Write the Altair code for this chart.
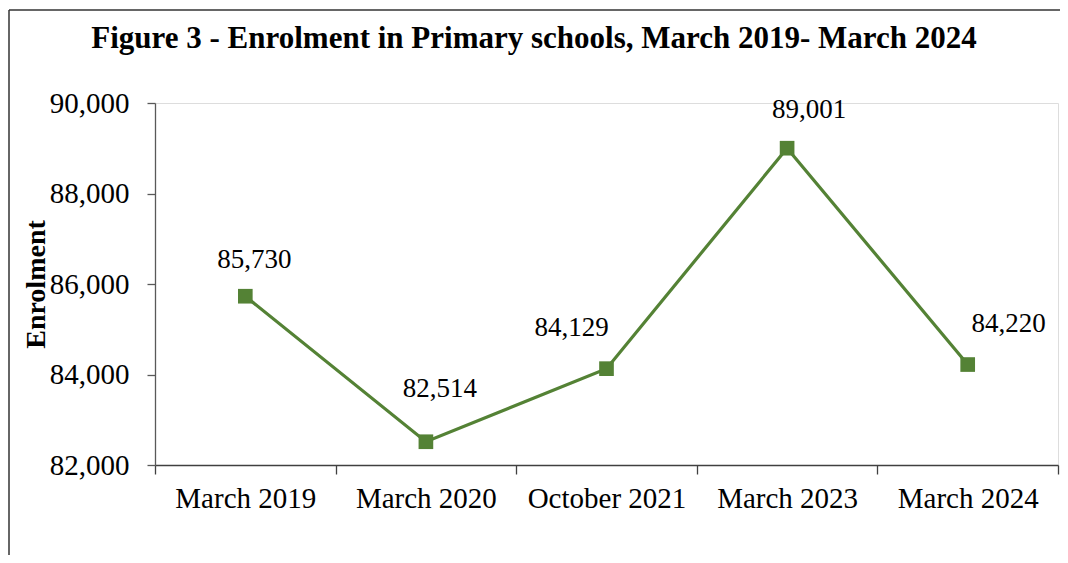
import altair as alt
import pandas as pd

# ---- data ----
periods = ["March 2019", "March 2020", "October 2021", "March 2023", "March 2024"]
enrolment = [85730, 82514, 84129, 89001, 84220]
value_labels = ["85,730", "82,514", "84,129", "89,001", "84,220"]
y_ticks = [82000, 84000, 86000, 88000, 90000]
title_text = "Figure 3 - Enrolment in Primary schools, March 2019- March 2024"

df = pd.DataFrame({"period": periods, "enrolment": enrolment, "label": value_labels})

GREEN = "#548235"
SERIF = "Liberation Serif"
W, H = 903, 362

# label nudges (styling, px)
label_nudges = {
    "March 2019": (9, -36),
    "March 2020": (14, -53),
    "October 2021": (-35, -41),
    "March 2023": (22, -38),
    "March 2024": (41, -41),
}

x_enc = alt.X(
    "period:N",
    sort=periods,
    bandPosition=0.5,
    scale=alt.Scale(type="band", paddingInner=0, paddingOuter=0),
    axis=alt.Axis(
        title=None,
        labelAngle=0,
        tickBand="extent",
        tickSize=9,
        labelPadding=10,
        labelFont=SERIF,
        labelFontSize=29,
        labelColor="black",
        domainColor="#404040",
        tickColor="#404040",
        domainWidth=1.3,
        tickWidth=1.3,
        grid=False,
    ),
)
y_enc = alt.Y(
    "enrolment:Q",
    scale=alt.Scale(domain=[82000, 90000], nice=False, zero=False),
    axis=alt.Axis(
        values=y_ticks,
        format=",.0f",
        grid=False,
        tickSize=8,
        labelPadding=18,
        labelFont=SERIF,
        labelFontSize=29,
        labelColor="black",
        domainColor="#595959",
        tickColor="#595959",
        domainWidth=1.3,
        tickWidth=1.3,
        title="Enrolment",
        titleFont=SERIF,
        titleFontSize=28,
        titleFontWeight="bold",
        titleColor="black",
        titleX=-119,
        titleY=H / 2,
        titleAngle=270,
        titleAlign="center",
        titleBaseline="middle",
    ),
)

base = alt.Chart(df)
line = base.mark_line(color=GREEN, strokeWidth=3.2).encode(x=x_enc, y=y_enc)
pts = base.mark_point(shape="square", filled=True, size=215, color=GREEN, opacity=1).encode(
    x=x_enc, y=y_enc
)

text_layers = []
for p in periods:
    dx, dy = label_nudges[p]
    text_layers.append(
        base.transform_filter(alt.datum.period == p)
        .mark_text(font=SERIF, fontSize=27, color="black", dx=dx, dy=dy, baseline="middle", align="center")
        .encode(x=x_enc, y=y_enc, text="label:N")
    )

frame_df = pd.DataFrame({"k": [0]})
frame_left = alt.Chart(frame_df).mark_rule(color="#333333", strokeWidth=1.5).encode(
    x=alt.value(-146), y=alt.value(-93), y2=alt.value(460)
)
frame_top = alt.Chart(frame_df).mark_rule(color="#333333", strokeWidth=1.5).encode(
    x=alt.value(-146), x2=alt.value(913), y=alt.value(-93)
)
title_mark = alt.Chart(frame_df).mark_text(
    text=title_text,
    font=SERIF,
    fontSize=31,
    fontWeight="bold",
    color="black",
    align="center",
    baseline="alphabetic",
).encode(x=alt.value(379), y=alt.value(-55))

chart = (
    alt.layer(line, pts, *text_layers, frame_left, frame_top, title_mark)
    .properties(
        width=W,
        height=H,
        autosize=alt.AutoSizeParams(type="none"),
        padding={"left": 147, "top": 95, "right": 2, "bottom": 90},
    )
    .configure_view(stroke=None)
    .configure(background="white")
)

chart.save("out.html", embed_options={"renderer": "svg", "actions": False})
